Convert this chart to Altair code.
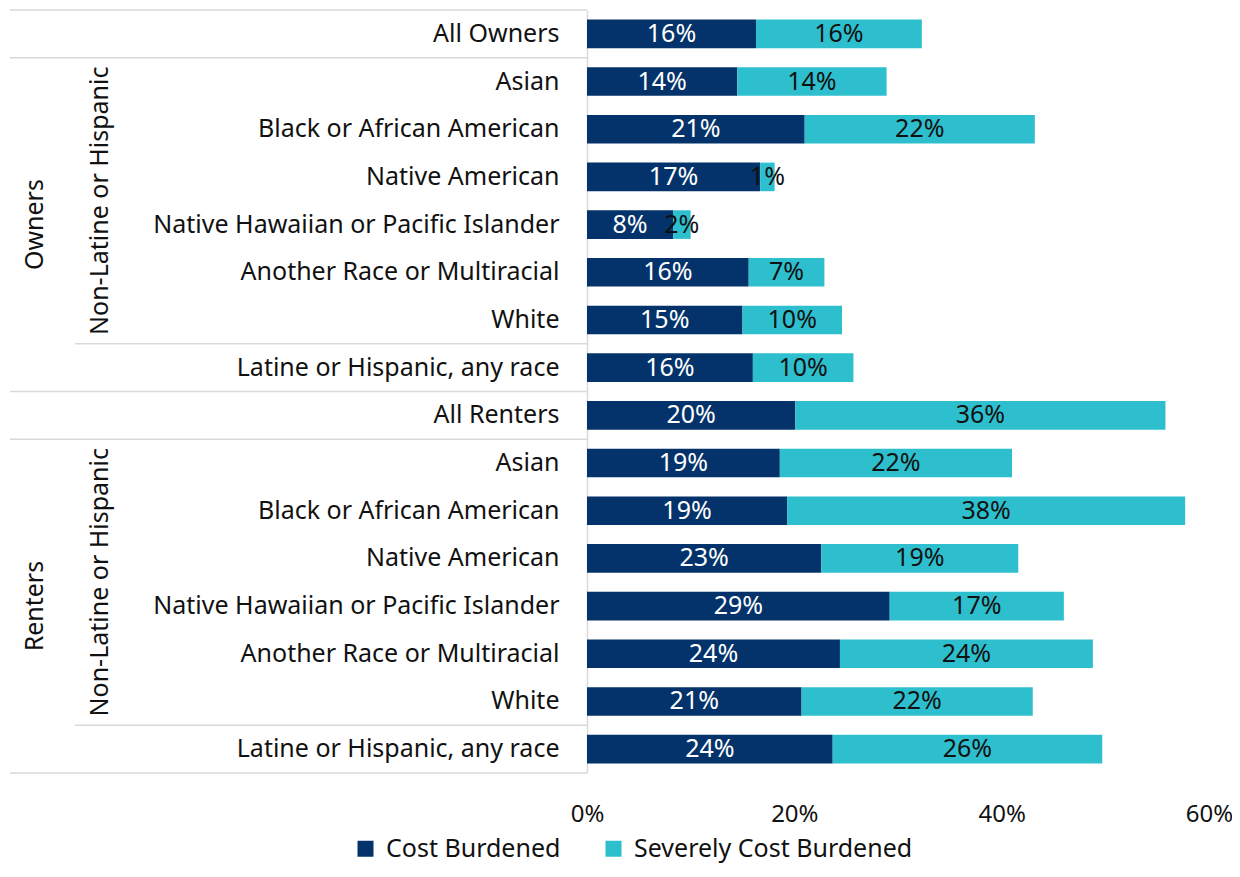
import altair as alt
import pandas as pd

# ---- data ----
groups = ["Owners"] * 8 + ["Renters"] * 8
categories = [
    "All Owners", "Asian", "Black or African American", "Native American",
    "Native Hawaiian or Pacific Islander", "Another Race or Multiracial", "White",
    "Latine or Hispanic, any race",
    "All Renters", "Asian", "Black or African American", "Native American",
    "Native Hawaiian or Pacific Islander", "Another Race or Multiracial", "White",
    "Latine or Hispanic, any race",
]
cost_burdened = [0.163, 0.145, 0.210, 0.167, 0.083, 0.156, 0.150, 0.160,
                 0.201, 0.186, 0.193, 0.226, 0.292, 0.244, 0.207, 0.237]
severely_burdened = [0.160, 0.144, 0.222, 0.014, 0.017, 0.073, 0.096, 0.097,
                     0.357, 0.224, 0.384, 0.190, 0.168, 0.244, 0.223, 0.260]
series_names = ["Cost Burdened", "Severely Cost Burdened"]
series_colors = ["#03336A", "#2EBFCE"]
x_ticks = [0, 0.2, 0.4, 0.6]

keys = [f"{g}|{c}" for g, c in zip(groups, categories)]

rows = []
for k, a, b in zip(keys, cost_burdened, severely_burdened):
    rows.append({"key": k, "series": series_names[0], "order": 0, "value": a})
    rows.append({"key": k, "series": series_names[1], "order": 1, "value": b})
df = pd.DataFrame(rows)

FONT = "Noto Sans"
FS = 25

y_enc = alt.Y(
    "key:N",
    sort=keys,
    scale=alt.Scale(domain=keys, paddingInner=0, paddingOuter=0),
    axis=alt.Axis(
        title=None,
        labelExpr="split(datum.label, '|')[1]",
        labelFontSize=FS,
        labelFont=FONT,
        labelColor="#111111",
        labelPadding=28,
        ticks=False,
        domainColor="#D9D9D9",
        domainWidth=1.5,
        labelLimit=600,
    ),
)

base = alt.Chart(df).transform_stack(
    stack="value", groupby=["key"], as_=["x0", "x1"], sort=[alt.SortField("order")]
).transform_calculate(mid="(datum.x0 + datum.x1) / 2")

bars = base.mark_bar(height=alt.RelativeBandSize(0.6)).encode(
    y=y_enc,
    x=alt.X(
        "x0:Q",
        scale=alt.Scale(domain=[0, 0.6]),
        axis=alt.Axis(
            title=None, values=x_ticks, format=".0%", grid=False, domain=False,
            ticks=False, labelFontSize=24, labelFont=FONT, labelColor="#111111",
            labelPadding=29, labelFlush=False,
        ),
    ),
    x2="x1:Q",
    color=alt.Color(
        "series:N",
        scale=alt.Scale(domain=series_names, range=series_colors),
        legend=alt.Legend(
            title=None, orient="none", direction="horizontal",
            legendX=-234, legendY=826, symbolType="square", symbolSize=256,
            symbolStrokeWidth=0, labelFontSize=FS, labelFont=FONT,
            labelColor="#111111", columnPadding=40, labelOffset=8,
            labelLimit=400,
        ),
    ),
)

labels = base.mark_text(fontSize=FS, font=FONT).encode(
    y=alt.Y("key:N", sort=keys),
    x=alt.X("mid:Q"),
    text=alt.Text("value:Q", format=".0%"),
    color=alt.condition(
        alt.datum.order == 0, alt.value("#FFFFFF"), alt.value("#111111")
    ),
)

# separator lines of the left label table
full_rule_rows = [keys[0], keys[7], keys[8], keys[15]]
indent_rule_rows = [keys[6], keys[14]]

rule_style = dict(color="#D9D9D9", strokeWidth=1.5)
top_rule = alt.Chart(pd.DataFrame({"key": [keys[0]]})).mark_rule(**rule_style).encode(
    y=alt.Y("key:N", sort=keys, bandPosition=0),
    x=alt.value(-577), x2=alt.value(0),
)
full_rules = alt.Chart(pd.DataFrame({"key": full_rule_rows})).mark_rule(**rule_style).encode(
    y=alt.Y("key:N", sort=keys, bandPosition=1),
    x=alt.value(-577), x2=alt.value(0),
)
indent_rules = alt.Chart(pd.DataFrame({"key": indent_rule_rows})).mark_rule(**rule_style).encode(
    y=alt.Y("key:N", sort=keys, bandPosition=1),
    x=alt.value(-512), x2=alt.value(0),
)

# rotated group labels
outer_labels = alt.Chart(pd.DataFrame({
    "key": [keys[4], keys[12]], "label": ["Owners", "Renters"]
})).mark_text(angle=270, fontSize=FS, font=FONT, color="#111111", baseline="middle").encode(
    y=alt.Y("key:N", sort=keys),
    x=alt.value(-552),
    text="label:N",
)
inner_labels = alt.Chart(pd.DataFrame({
    "key": [keys[3], keys[11]], "label": ["Non-Latine or Hispanic"] * 2
})).mark_text(angle=270, fontSize=FS, font=FONT, color="#111111", baseline="middle").encode(
    y=alt.Y("key:N", sort=keys, bandPosition=1),
    x=alt.value(-487),
    text="label:N",
)

chart = alt.layer(
    bars, labels, top_rule, full_rules, indent_rules, outer_labels, inner_labels
).properties(
    width=622, height=763,
    autosize=alt.AutoSizeParams(type="none"),
    padding={"left": 579, "top": 2, "right": 23, "bottom": 90},
).configure_view(stroke=None)

chart.save("out.html", embed_options={"renderer": "svg", "actions": False})
